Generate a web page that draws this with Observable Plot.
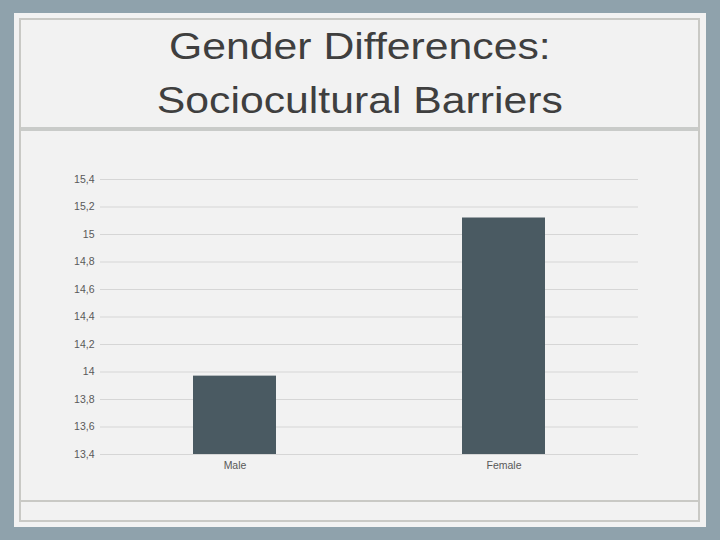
<!DOCTYPE html>
<html>
<head>
<meta charset="utf-8">
<script src="https://cdn.jsdelivr.net/npm/d3@7"></script>
<script src="https://cdn.jsdelivr.net/npm/@observablehq/plot@0.6"></script>
<style>
  html, body { margin: 0; padding: 0; }
  body { width: 720px; height: 540px; background: #8fa2ac; position: relative; overflow: hidden; font-family: "Liberation Sans", Arial, sans-serif; }
  #panel { position: absolute; left: 14px; top: 13px; width: 692px; height: 514px; background: #f2f2f2; }
  #frame { position: absolute; left: 19px; top: 18px; width: 677px; height: 500px; border: 2px solid #c9c9c5; box-sizing: content-box; }
  #sep { position: absolute; left: 21px; top: 127px; width: 677px; height: 4px; background: #c9cbc9; }
  #sepb { position: absolute; left: 21px; top: 500px; width: 677px; height: 2px; background: #c9c9c5; }
  #title { position: absolute; left: 0; top: 20px; width: 720px; text-align: center; color: #3f3f3f; font-size: 37px; line-height: 53.5px; transform: scaleX(1.155); transform-origin: 361px 0; }
  #chart { position: absolute; left: 0; top: 140px; }
</style>
</head>
<body>
<div id="panel"></div>
<div id="frame"></div>
<div id="sep"></div>
<div id="sepb"></div>
<div id="title">Gender Differences:<br>Sociocultural Barriers</div>
<div id="chart"></div>
<script>
const categories = ["Male", "Female"];
const values = [13.97, 15.12];
const yTicks = [13.4, 13.6, 13.8, 14, 14.2, 14.4, 14.6, 14.8, 15, 15.2, 15.4];
const yMin = 13.4, yMax = 15.4;

const data = categories.map((c, i) => ({gender: c, value: values[i]}));
const fmt = d => String(d).replace(".", ",");

const chart = Plot.plot({
  width: 720,
  height: 350,
  marginLeft: 100,
  marginRight: 82,
  marginTop: 39,
  marginBottom: 36,
  style: {background: "transparent", fontFamily: "Liberation Sans, Arial, sans-serif", fontSize: "10.5px", color: "#595959"},
  x: {domain: categories, paddingInner: 0.691, paddingOuter: 0.3455, label: null, tickSize: 0, tickPadding: 7},
  y: {domain: [yMin, yMax], ticks: yTicks, tickFormat: fmt, label: null, tickSize: 0, tickPadding: 6},
  marks: [
    Plot.gridY(yTicks, {stroke: "#d6d6d6", strokeOpacity: 1, strokeWidth: 1}),
    Plot.barY(data, {x: "gender", y1: () => yMin, y2: "value", fill: "#4a5a62"}),
    Plot.axisY({ticks: yTicks, tickFormat: fmt, tickSize: 0, tickPadding: 6, label: null, fill: "#595959"}),
    Plot.axisX({tickSize: 0, tickPadding: 7, label: null, fill: "#595959"})
  ]
});
document.getElementById("chart").appendChild(chart);
</script>
</body>
</html>
